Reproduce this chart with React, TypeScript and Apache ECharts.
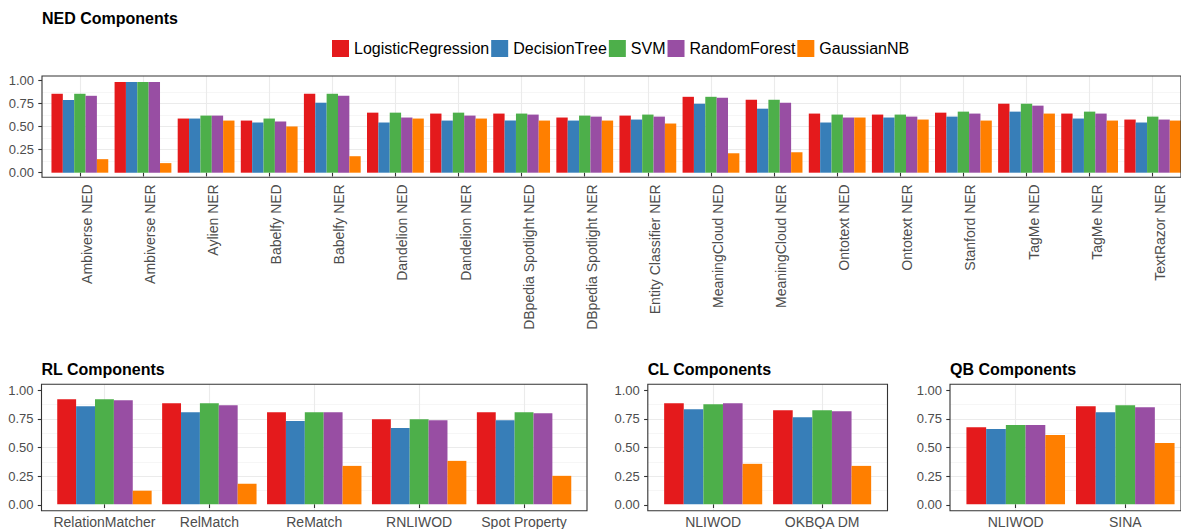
import React, { useEffect, useRef } from "react";
import * as echarts from "echarts";

const seriesNames = ["LogisticRegression", "DecisionTree", "SVM", "RandomForest", "GaussianNB"];
const seriesColors = ["#E41A1C", "#377EB8", "#4DAF4A", "#984EA3", "#FF7F00"];
const yTicks = [0, 0.25, 0.5, 0.75, 1];

const nedCategories = [
  "Ambiverse NED", "Ambiverse NER", "Aylien NER", "Babelfy NED", "Babelfy NER",
  "Dandelion NED", "Dandelion NER", "DBpedia Spotlight NED", "DBpedia Spotlight NER",
  "Entity Classifier NER", "MeaningCloud NED", "MeaningCloud NER", "Ontotext NED",
  "Ontotext NER", "Stanford NER", "TagMe NED", "TagMe NER", "TextRazor NER",
];
const nedLR = [0.857, 0.986, 0.588, 0.566, 0.857, 0.652, 0.642, 0.642, 0.599, 0.62, 0.824, 0.792, 0.642, 0.631, 0.652, 0.749, 0.642, 0.577];
const nedDT = [0.79, 0.986, 0.588, 0.545, 0.76, 0.545, 0.566, 0.566, 0.566, 0.577, 0.749, 0.695, 0.545, 0.599, 0.609, 0.663, 0.588, 0.545];
const nedSVM = [0.857, 0.986, 0.62, 0.588, 0.857, 0.652, 0.652, 0.642, 0.62, 0.631, 0.824, 0.792, 0.631, 0.631, 0.663, 0.749, 0.663, 0.609];
const nedRF = [0.835, 0.986, 0.62, 0.556, 0.835, 0.599, 0.62, 0.631, 0.609, 0.609, 0.814, 0.76, 0.599, 0.609, 0.642, 0.728, 0.642, 0.577];
const nedGNB = [0.147, 0.104, 0.566, 0.502, 0.179, 0.588, 0.588, 0.566, 0.566, 0.534, 0.211, 0.222, 0.599, 0.577, 0.566, 0.642, 0.566, 0.566];

const rlCategories = ["RelationMatcher", "RelMatch", "ReMatch", "RNLIWOD", "Spot Property"];
const rlLR = [0.919, 0.884, 0.806, 0.745, 0.806];
const rlDT = [0.858, 0.806, 0.728, 0.667, 0.736];
const rlSVM = [0.919, 0.884, 0.806, 0.745, 0.806];
const rlRF = [0.91, 0.867, 0.806, 0.736, 0.797];
const rlGNB = [0.119, 0.18, 0.336, 0.38, 0.249];

const clCategories = ["NLIWOD", "OKBQA DM"];
const clLR = [0.884, 0.823];
const clDT = [0.832, 0.762];
const clSVM = [0.875, 0.823];
const clRF = [0.884, 0.814];
const clGNB = [0.354, 0.336];

const qbCategories = ["NLIWOD", "SINA"];
const qbLR = [0.675, 0.858];
const qbDT = [0.658, 0.806];
const qbSVM = [0.693, 0.867];
const qbRF = [0.693, 0.849];
const qbGNB = [0.606, 0.536];

const FONT = "'Liberation Sans', Arial, Helvetica, sans-serif";

type Panel = {
  title: string;
  cats: string[];
  vals: number[][];
  L: number;
  R: number;
  T: number;
  B: number;
  rotate: boolean;
  titleTop: number;
};

const panels: Panel[] = [
  { title: "NED Components", cats: nedCategories, vals: [nedLR, nedDT, nedSVM, nedRF, nedGNB], L: 42, R: 1190.6, T: 76, B: 177.3, rotate: true, titleTop: 10 },
  { title: "RL Components", cats: rlCategories, vals: [rlLR, rlDT, rlSVM, rlRF, rlGNB], L: 41.5, R: 587, T: 384.3, B: 510.7, rotate: false, titleTop: 361 },
  { title: "CL Components", cats: clCategories, vals: [clLR, clDT, clSVM, clRF, clGNB], L: 647.8, R: 887.5, T: 384.3, B: 510.7, rotate: false, titleTop: 361 },
  { title: "QB Components", cats: qbCategories, vals: [qbLR, qbDT, qbSVM, qbRF, qbGNB], L: 950, R: 1191, T: 384.3, B: 510.7, rotate: false, titleTop: 361 },
];

function buildOption() {
  const grid: any[] = [];
  const xAxis: any[] = [];
  const yAxis: any[] = [];
  const series: any[] = [];
  const title: any[] = [];

  panels.forEach((p, i) => {
    const W = p.R - p.L;
    const H = p.B - p.T;
    const u = W / (p.cats.length + 0.2);
    const gP = 2 * i;
    const gD = 2 * i + 1;
    grid.push({
      left: p.L, top: p.T, width: W, height: H,
      show: true, borderColor: "#333333", borderWidth: 1.1,
      backgroundColor: "rgba(0,0,0,0)", z: 10,
    });
    grid.push({ left: p.L + 0.6 * u, top: p.T, width: W - 1.2 * u, height: H });

    xAxis.push({ gridIndex: gP, type: "value", show: false, min: 0, max: 1 });
    xAxis.push({
      gridIndex: gD,
      type: "category",
      data: p.cats,
      boundaryGap: false,
      axisLine: { show: false },
      axisTick: { show: true, interval: 0, length: 3.7, lineStyle: { color: "#333333", width: 1.1 } },
      splitLine: { show: true, interval: 0, lineStyle: { color: "#ebebeb", width: 1.1 } },
      axisLabel: p.rotate
        ? { interval: 0, rotate: 90, margin: 7, fontSize: 14, color: "#4d4d4d", verticalAlign: "top", fontFamily: FONT }
        : { interval: 0, margin: 5, fontSize: 14, color: "#4d4d4d", fontFamily: FONT },
    });

    yAxis.push({
      gridIndex: gP,
      type: "value",
      min: -0.05,
      max: 1.05,
      minInterval: 0.25,
      maxInterval: 0.25,
      axisLine: { show: false },
      axisTick: { show: true, length: 3.7, lineStyle: { color: "#333333", width: 1.1 }, customValues: yTicks },
      axisLabel: {
        customValues: yTicks,
        formatter: (v: number) => v.toFixed(2),
        margin: 8,
        fontSize: 13,
        color: "#4d4d4d",
        fontFamily: FONT,
      },
      splitLine: { show: true, showMinLine: false, showMaxLine: false, lineStyle: { color: "#ebebeb", width: 1.1 } },
      minorTick: { show: false, splitNumber: 2 },
      minorSplitLine: { show: true, lineStyle: { color: "#f2f2f2", width: 0.7 } },
    });
    yAxis.push({ gridIndex: gD, type: "value", min: -0.05, max: 1.05, show: false });

    title.push({
      text: p.title,
      left: p.L,
      top: p.titleTop,
      padding: 0,
      textStyle: { fontSize: 16, fontWeight: "bold", color: "#000", fontFamily: FONT },
    });

    seriesNames.forEach((name, k) => {
      series.push({
        type: "bar",
        name,
        xAxisIndex: gD,
        yAxisIndex: gD,
        data: p.vals[k],
        barCategoryGap: "10%",
        barGap: "0%",
        itemStyle: { color: seriesColors[k] },
        z: 2,
      });
    });
  });

  return {
    animation: false,
    textStyle: { fontFamily: FONT },
    title,
    legend: {
      data: seriesNames,
      top: 40,
      left: 332,
      padding: 0,
      itemWidth: 17,
      itemHeight: 17,
      itemGap: 2,
      icon: "rect",
      textStyle: { fontSize: 16, color: "#000", fontFamily: FONT },
    },
    grid,
    xAxis,
    yAxis,
    series,
  };
}

export default function App() {
  const ref = useRef<HTMLDivElement>(null);
  useEffect(() => {
    if (!ref.current) return;
    const chart = echarts.init(ref.current, null, { renderer: "svg" });
    chart.setOption(buildOption() as any);
    return () => chart.dispose();
  }, []);
  return (
    <div
      ref={ref}
      style={{ position: "fixed", left: 0, top: 0, width: 1181, height: 529, background: "#fff" }}
    />
  );
}
